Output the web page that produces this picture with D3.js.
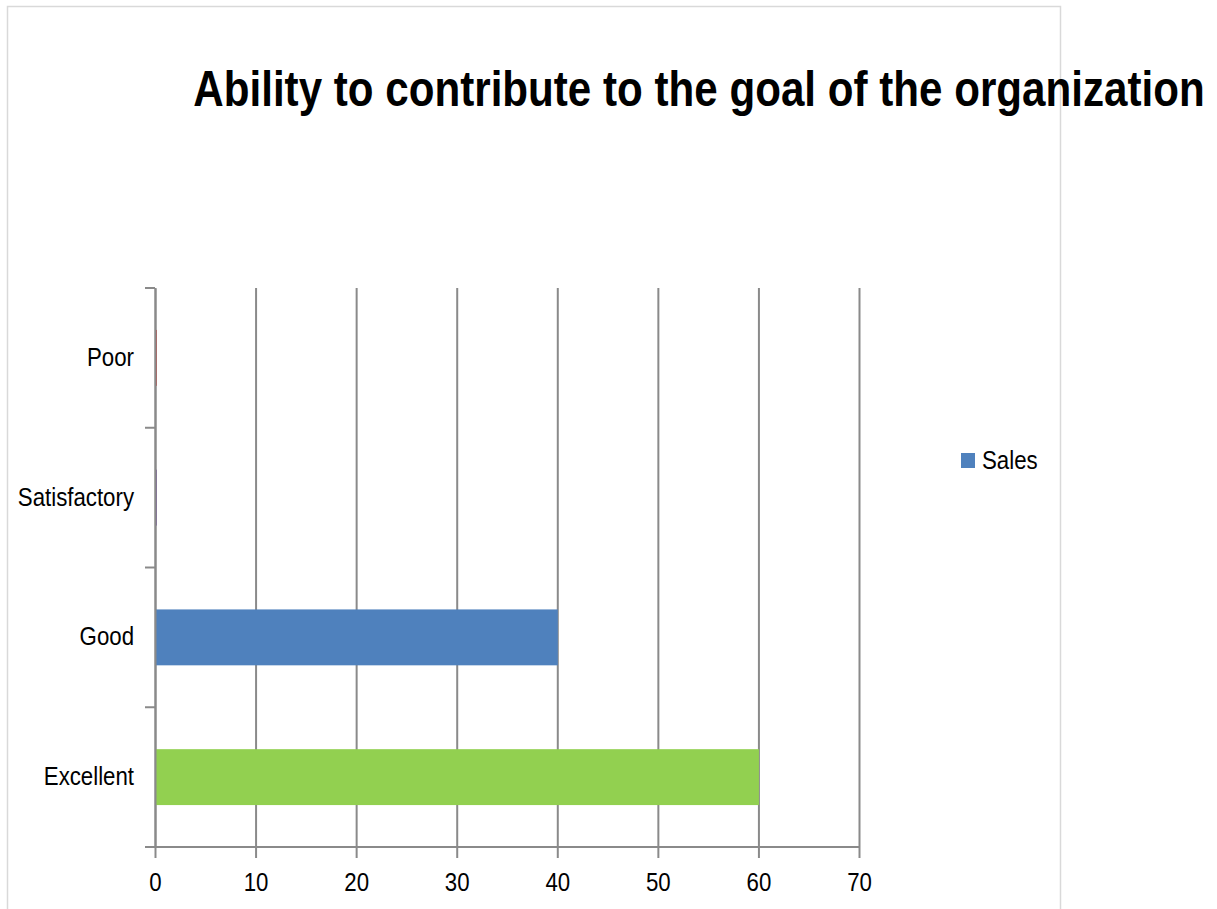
<!DOCTYPE html>
<html>
<head>
<meta charset="utf-8">
<script src="https://cdn.jsdelivr.net/npm/d3@7"></script>
<style>
  body { margin: 0; background: #fff; }
  text { font-family: "Liberation Sans", Arial, sans-serif; fill: #000; }
  .sq { transform-box: fill-box; transform: scaleX(0.89); }
</style>
</head>
<body>
<div id="content"></div>
<script>
let categories = ["Poor", "Satisfactory", "Good", "Excellent"];
let values = [0, 0, 40, 60];
let barColors = ["#c0504d", "#8064a2", "#4f81bd", "#92d050"];
let xTicks = [0, 10, 20, 30, 40, 50, 60, 70];
let seriesName = "Sales";
let chartTitle = "Ability to contribute to the goal of the organization";

const width = 1217, height = 909;
const margin = {top: 288, left: 155, right: 1217 - 859, bottom: 909 - 847};

let svg = d3.select("#content")
    .append("svg")
    .attr("width", width)
    .attr("height", height);

// outer chart border
svg.append("rect")
    .attr("x", 7.5).attr("y", 6.5)
    .attr("width", 1053).attr("height", 920)
    .attr("fill", "none")
    .attr("stroke", "#d9d9d9")
    .attr("stroke-width", 1.5);

// title
svg.append("text")
    .attr("x", 699).attr("y", 106)
    .attr("text-anchor", "middle")
    .attr("font-size", 50)
    .attr("font-weight", "bold")
    .style("transform-box", "fill-box")
    .style("transform-origin", "center")
    .style("transform", "scaleX(0.843)")
    .text(chartTitle);

const x = d3.scaleLinear()
    .domain([0, 70])
    .range([margin.left, width - margin.right]);

const y = d3.scaleBand()
    .domain(categories)
    .range([margin.top, height - margin.bottom])
    .padding(0);

const plotH = height - margin.bottom - margin.top;
const gridColor = "#8a8a8a";

// vertical gridlines
let grid = svg.append("g")
    .attr("transform", "translate(0," + (height - margin.bottom) + ")")
    .call(d3.axisBottom(x).tickValues(xTicks).tickSize(-plotH).tickFormat(""));
grid.select(".domain").remove();
grid.selectAll("line").attr("stroke", gridColor).attr("stroke-width", 2);

// bars
svg.append("g")
    .selectAll("rect")
    .data(categories)
    .enter()
    .append("rect")
    .attr("x", x(0) + 0.5)
    .attr("y", d => y(d) + y.step() * 0.3)
    .attr("width", (d, i) => Math.max(x(values[i]) - x(0), 1.5))
    .attr("height", y.step() * 0.4)
    .attr("fill", (d, i) => barColors[i]);

// x axis
let xAxis = svg.append("g")
    .attr("transform", "translate(0," + (height - margin.bottom) + ")")
    .call(d3.axisBottom(x).tickValues(xTicks).tickSize(11).tickSizeOuter(0).tickPadding(15));
xAxis.select(".domain").remove();
xAxis.selectAll("line").attr("stroke", gridColor).attr("stroke-width", 2);
xAxis.selectAll("text")
    .attr("font-size", 25)
    .attr("class", "sq")
    .style("transform-origin", "center");

svg.append("line")
    .attr("x1", x(0) - 10).attr("x2", x(70))
    .attr("y1", height - margin.bottom).attr("y2", height - margin.bottom)
    .attr("stroke", gridColor).attr("stroke-width", 2);

// y axis
let yAxis = svg.append("g")
    .attr("transform", "translate(" + x(0) + ",0)")
    .call(d3.axisLeft(y).tickSize(0).tickSizeOuter(0).tickPadding(21));
yAxis.select(".domain").attr("stroke", gridColor).attr("stroke-width", 2);
yAxis.selectAll("text")
    .attr("font-size", 25)
    .attr("class", "sq")
    .style("transform-origin", "right");

svg.append("g")
    .selectAll("line")
    .data(categories.concat(["end"]))
    .enter()
    .append("line")
    .attr("x1", x(0) - 10).attr("x2", x(0))
    .attr("y1", d => d === "end" ? y.range()[1] : y(d))
    .attr("y2", d => d === "end" ? y.range()[1] : y(d))
    .attr("stroke", gridColor).attr("stroke-width", 2);

// legend
let legend = svg.append("g").attr("transform", "translate(961,453)");
legend.append("rect")
    .attr("width", 14).attr("height", 15)
    .attr("fill", barColors[2]);
legend.append("text")
    .attr("x", 21).attr("y", 16)
    .attr("font-size", 25)
    .attr("class", "sq")
    .style("transform-origin", "left")
    .text(seriesName);
</script>
</body>
</html>
